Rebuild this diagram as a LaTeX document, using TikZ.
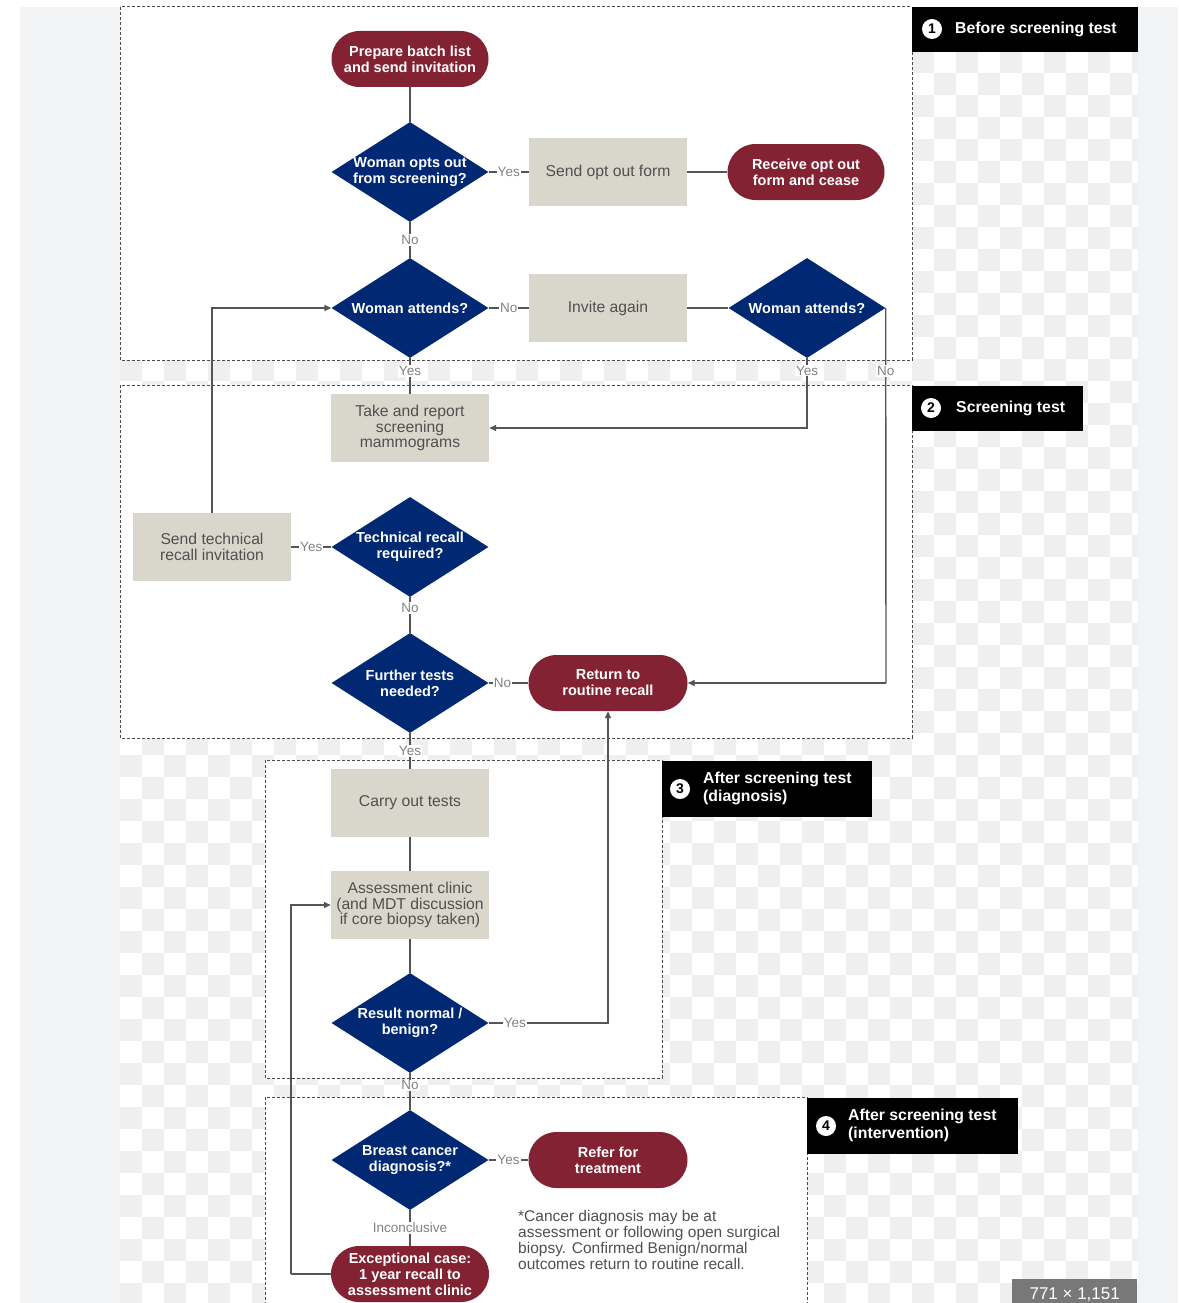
\documentclass[tikz,border=0pt]{standalone}
\usepackage{fontspec}
\setmainfont{Liberation Sans}
\usetikzlibrary{shapes.geometric,arrows.meta}
\definecolor{navy}{RGB}{0,40,115}
\definecolor{maroon}{RGB}{130,34,50}
\definecolor{beige}{RGB}{217,215,203}
\definecolor{rtext}{RGB}{80,80,80}
\definecolor{conncol}{RGB}{85,85,85}
\definecolor{lblgray}{RGB}{130,130,130}
\definecolor{chk}{RGB}{239,239,239}
\definecolor{outer}{RGB}{241,243,244}
\definecolor{badge}{RGB}{120,120,120}
\begin{document}
\begin{tikzpicture}[x=1pt,y=-1pt,
  pill/.style={rectangle, rounded corners=28pt, fill=maroon, text=white, minimum width=157pt, minimum height=56pt, inner sep=1pt, align=center, font=\fontsize{14.5}{16}\selectfont\bfseries},
  box/.style={rectangle, fill=beige, text=rtext, minimum width=158pt, minimum height=68pt, inner sep=1pt, align=center, font=\fontsize{15.7}{15.5}\selectfont},
  dia/.style={diamond, aspect=1.57, fill=navy, minimum width=157pt, minimum height=100pt, inner sep=0pt},
  dtext/.style={text=white, align=center, font=\fontsize{14.5}{16}\selectfont\bfseries, inner sep=0pt},
  conn/.style={draw=conncol, line width=1.4pt},
  arr/.style={conn, -{Triangle[length=7pt,width=6pt]}},
  elab/.style={fill=white, text=lblgray, inner sep=1pt, font=\fontsize{13.5}{14}\selectfont},
  sect/.style={draw=black!70, line width=1pt, dash pattern=on 3pt off 2pt, fill=white},
  secttag/.style={fill=black},
  num/.style={circle, fill=white, text=black, inner sep=0pt, minimum size=20pt, font=\fontsize{14}{14}\selectfont\bfseries},
  tagtext/.style={text=white, anchor=west, align=left, inner sep=0pt, font=\fontsize{15.8}{18}\selectfont\bfseries}
]
\useasboundingbox (0,0) rectangle (1178,1303);
% background
\fill[white] (0,0) rectangle (1178,1303);
\fill[outer] (20,7) rectangle (1178,1303);
\fill[white] (120,7) rectangle (1138,1303);
\begin{scope}
\clip (120,7) rectangle (1138,1303);
\foreach \i in {0,2,...,46} {
  \foreach \j in {0,2,...,58} {
    \fill[chk] (120+\i*22,7+\j*22) rectangle ++(22,22);
    \fill[chk] (142+\i*22,29+\j*22) rectangle ++(22,22);
  }
}
\end{scope}
% sections
\path[sect] (120,7) rectangle (912,360);
\path[sect] (120,385) rectangle (912,738);
\path[sect] (265,760) rectangle (662,1078);
\path[sect] (265,1320) -- (265,1097) -- (807,1097) -- (807,1320);
% section tags
\path[secttag] (912,7) rectangle (1138,52);
\node[num] (n1) at (932,29) {1};
\node[tagtext] (t1) at (955,29) {Before screening test};
\path[secttag] (912,386) rectangle (1083,431);
\node[num] (n2) at (931,408) {2};
\node[tagtext] (t2) at (956,408) {Screening test};
\path[secttag] (662,761) rectangle (872,817);
\node[num] (n3) at (680,789) {3};
\node[tagtext] (t3) at (703,788) {After screening test\\(diagnosis)};
\path[secttag] (807,1098) rectangle (1018,1154);
\node[num] (n4) at (826,1126) {4};
\node[tagtext] (t4) at (848,1125) {After screening test\\(intervention)};
% nodes
\node[pill] (prep) at (410,59) {Prepare batch list\\and send invitation};
\node[dia, label={[dtext]center:Woman opts out\\from screening?}] (d1) at (410,172) {};
\node[box] (optform) at (608,172) {Send opt out form};
\node[pill] (receive) at (806,172) {Receive opt out\\form and cease};
\node[dia, label={[dtext]center:Woman attends?}] (d2) at (410,308) {};
\node[box] (invite) at (608,308) {Invite again};
\node[dia, label={[dtext]center:Woman attends?}] (d3) at (807,308) {};
\node[box] (take) at (410,428) {Take and report\\screening\\mammograms};
\node[dia, label={[dtext]center:Technical recall\\required?}] (tech) at (410,547) {};
\node[box] (sendtech) at (212,547) {Send technical\\recall invitation};
\node[dia, label={[dtext]center:Further tests\\needed?}] (further) at (410,683) {};
\node[pill, minimum width=159pt] (ret) at (608,683) {Return to\\routine recall};
\node[box] (carry) at (410,803) {Carry out tests};
\node[box] (assess) at (410,905) {Assessment clinic\\(and MDT discussion\\if core biopsy taken)};
\node[dia, label={[dtext]center:Result normal /\\benign?}] (result) at (410,1023) {};
\node[dia, label={[dtext]center:Breast cancer\\diagnosis?*}] (breast) at (410,1160) {};
\node[pill, minimum width=159pt] (refer) at (608,1160) {Refer for\\treatment};
\node[pill, minimum width=158pt] (exc) at (410,1274) {Exceptional case:\\1 year recall to\\assessment clinic};
\node[anchor=north west, text=rtext, align=left, inner sep=0pt, font=\fontsize{15.5}{16}\selectfont] (note) at (518,1210) {*Cancer diagnosis may be at\\assessment or following open surgical\\biopsy. Confirmed Benign/normal\\outcomes return to routine recall.};
\node[fill=badge, text=white, anchor=north west, minimum width=125pt, minimum height=32pt, inner sep=0pt, font=\fontsize{17}{17}\selectfont] (badge) at (1012,1279) {771 × 1,151};
% connectors
\coordinate (c1) at (886,683);
\coordinate (lp) at (291,1274);
\draw[conn] (prep) -- (d1);
\draw[conn] (d1) -- node[elab]{Yes} (optform);
\draw[conn] (optform) -- (receive);
\draw[conn] (d1) -- node[elab]{No} (d2);
\draw[conn] (d2) -- node[elab]{No} (invite);
\draw[conn] (invite) -- (d3);
\draw[conn] (d2) -- node[elab, pos=0.36]{Yes} (take);
\draw[arr] (d3.south) |- node[elab, pos=0.09]{Yes} (take.east);
\draw[conn] (d3.east) -- node[elab, pos=0.168]{No} (c1);
\draw[arr] (c1) -- (ret.east);
\draw[conn] (tech) -- node[elab]{Yes} (sendtech);
\draw[arr] (sendtech.north) |- (d2.west);
\draw[conn] (tech) -- node[elab, pos=0.3]{No} (further);
\draw[conn] (further) -- node[elab, pos=0.35]{No} (ret);
\draw[conn] (further) -- node[elab]{Yes} (carry);
\draw[conn] (carry) -- (assess);
\draw[conn] (assess) -- (result);
\draw[arr] (result.east) -| node[elab, pos=0.11]{Yes} (ret.south);
\draw[conn] (result) -- node[elab, pos=0.33]{No} (breast);
\draw[conn] (breast) -- node[elab]{Yes} (refer);
\draw[conn] (breast) -- node[elab]{Inconclusive} (exc);
\draw[conn] (exc.west) -- (lp);
\draw[arr] (lp) |- (assess.west);
\end{tikzpicture}
\end{document}
